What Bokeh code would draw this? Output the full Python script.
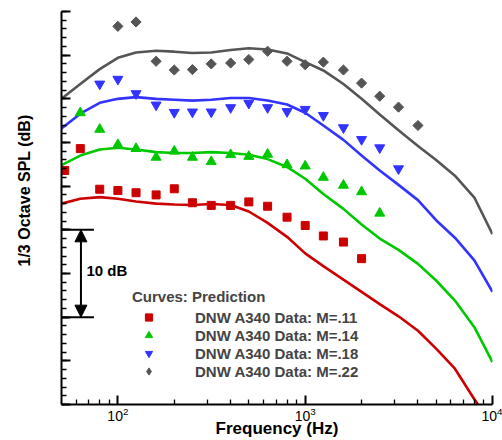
from bokeh.plotting import figure
from bokeh.models import (FixedTicker, Label, Legend, LegendItem, Arrow, NormalHead, Title, LinearAxis)
from bokeh.embed import file_html
from bokeh.resources import INLINE

FONT = "Liberation Sans"
RED, GREEN, BLUE, GRAY = "#cc0000", "#00c800", "#3333ff", "#555555"

# ---- prediction curves (1/3 octave SPL, dB, arbitrary reference) ----
pred_freq = [50, 63, 80, 100, 125, 160, 200, 250, 315, 400, 500, 630, 800, 1000,
             1250, 1600, 2000, 2500, 3150, 4000, 5000, 6300, 8000, 10000]
pred_m11 = [23.0, 23.55, 23.75, 23.55, 23.25, 23.0, 22.9, 22.85, 22.95, 22.85, 22.1, 20.8,
            19.2, 17.3, 15.85, 14.3, 12.9, 11.5, 10.1, 8.45, 6.4, 4.1, 0.6, -2.4]
pred_m14 = [27.4, 28.5, 29.2, 29.4, 29.2, 28.9, 28.8, 28.8, 28.9, 28.8, 28.6, 28.1,
            27.2, 25.85, 24.1, 22.4, 20.6, 19.0, 17.7, 16.1, 14.2, 11.9, 8.85, 4.85]
pred_m18 = [31.6, 33.3, 34.55, 35.0, 35.2, 35.0, 34.9, 34.8, 34.9, 35.1, 35.1, 34.8,
            34.35, 33.4, 31.95, 30.3, 28.5, 26.8, 25.15, 23.4, 21.1, 19.1, 16.5, 12.9]
pred_m22 = [35.0, 36.7, 38.4, 39.7, 40.3, 40.5, 40.4, 40.25, 40.3, 40.6, 40.8, 40.65,
            40.2, 39.2, 38.25, 36.7, 35.0, 33.2, 31.4, 29.6, 28.0, 26.2, 23.7, 19.5]

# ---- DNW A340 measured data ----
data_f_m11 = [52, 63, 80, 100, 125, 160, 200, 250, 315, 400, 500, 630, 800, 1000, 1250, 1600, 2000]
data_m11 = [26.8, 29.3, 24.65, 24.5, 24.25, 24.0, 24.7, 23.1, 22.8, 22.8, 23.2, 22.7,
            21.45, 20.5, 19.3, 18.6, 16.7]
data_f_m14 = [63, 80, 100, 125, 160, 200, 250, 315, 400, 500, 630, 800, 1000, 1250, 1600, 2000, 2500]
data_m14 = [33.4, 31.5, 29.75, 29.3, 28.3, 29.0, 28.3, 27.8, 28.6, 28.4, 28.65, 27.45,
            27.3, 26.0, 25.1, 24.35, 21.9]
data_f_m18 = [80, 100, 125, 160, 200, 250, 315, 400, 500, 630, 800, 1000, 1250, 1600, 2000, 2500, 3150]
data_m18 = [36.7, 37.25, 35.6, 34.3, 33.45, 33.5, 33.5, 34.0, 34.5, 34.0, 33.55, 33.8,
            33.1, 31.7, 30.35, 29.4, 27.0]
data_f_m22 = [100, 125, 160, 200, 250, 315, 400, 500, 630, 800, 1000, 1250, 1600, 2000, 2500, 3150, 4000]
data_m22 = [43.3, 43.8, 39.3, 38.3, 38.35, 39.0, 39.1, 39.5, 40.45, 39.3, 38.9, 39.2,
            38.3, 36.8, 35.3, 34.05, 31.95]

legend_title = "Curves: Prediction"
legend_labels = ["DNW A340 Data: M=.11", "DNW A340 Data: M=.14",
                 "DNW A340 Data: M=.18", "DNW A340 Data: M=.22"]

# axis ticks
X_MAJOR = [100, 1000, 10000]
X_MINOR = [60, 70, 80, 90, 200, 300, 400, 500, 600, 700, 800, 900,
           2000, 3000, 4000, 5000, 6000, 7000, 8000, 9000]
Y_MAJOR = list(range(0, 46, 5))
Y_MINOR = list(range(0, 46, 1))

# 10 dB scale bar
BAR_LOW, BAR_HIGH = 10, 20
BAR_TEXT_Y = 15.4
BAR_FREQ = 63.5
CAP_F0, CAP_F1 = 50, 74.5
BAR_TEXT_F = 68.0

p = figure(width=502, height=440, x_axis_type="log", x_range=(50, 10000), y_range=(0, 45),
           output_backend="svg", toolbar_location=None,
           min_border_left=61, min_border_right=10, min_border_top=11, min_border_bottom=36)
p.outline_line_color = None
p.grid.visible = False

# prediction lines
for vals, col in [(pred_m11, RED), (pred_m14, GREEN), (pred_m18, BLUE), (pred_m22, GRAY)]:
    p.line(pred_freq, vals, line_color=col, line_width=2.6)

# data markers
r11 = p.scatter(data_f_m11, data_m11, marker="square", size=8, fill_color=RED, line_color=RED)
r14 = p.scatter(data_f_m14, data_m14, marker="triangle", size=10, fill_color=GREEN, line_color=GREEN)
r18 = p.scatter(data_f_m18, data_m18, marker="inverted_triangle", size=10, fill_color=BLUE, line_color=BLUE)
r22 = p.scatter(data_f_m22, data_m22, marker="square", angle=0.7853981634, size=7.2,
                fill_color=GRAY, line_color=GRAY)
# legend-only diamond symbol (its single point is NaN, so nothing is drawn in the plot)
r22_leg = p.scatter(x=[float("nan")], y=[float("nan")], marker="diamond", size=12,
                    fill_color=GRAY, line_color=GRAY)

# axes
xa = p.xaxis[0]
xa.ticker = FixedTicker(ticks=X_MAJOR, minor_ticks=X_MINOR)
ya = p.yaxis[0]
ya.ticker = FixedTicker(ticks=Y_MAJOR, minor_ticks=Y_MINOR)
ya.major_label_overrides = {v: "" for v in Y_MAJOR}
for ax in (xa, ya):
    ax.axis_line_width = 2
    ax.axis_line_color = "black"
    ax.major_tick_in = 9
    ax.major_tick_out = 0
    ax.minor_tick_in = 5
    ax.minor_tick_out = 0
    ax.major_tick_line_width = 2
    ax.minor_tick_line_width = 1.3
    ax.major_tick_line_color = "black"
    ax.minor_tick_line_color = "black"
xa.major_label_text_font = FONT
xa.major_label_text_font_size = "14px"
xa.major_label_text_color = "black"
xa.major_label_standoff = 2
xa.axis_label = "Frequency (Hz)"
xa.axis_label_text_font = FONT
xa.axis_label_text_font_size = "17px"
xa.axis_label_text_font_style = "bold"
xa.axis_label_text_color = "black"
xa.axis_label_standoff = -5

# invisible spacer axis so the y title sits further left
spacer = LinearAxis(ticker=FixedTicker(ticks=Y_MAJOR), major_tick_in=0, major_tick_out=24,
                    major_tick_line_color=None, minor_tick_line_color=None, axis_line_color=None,
                    major_label_overrides={v: "" for v in Y_MAJOR}, major_label_standoff=0)
p.add_layout(spacer, "left")

# y axis title (placed on the left, starting 138 px above the frame bottom)
p.add_layout(Title(text="1/3 Octave SPL (dB)", align="left", offset=138, standoff=10,
                   text_font=FONT, text_font_size="16px", text_font_style="bold",
                   text_color="black"), "left")

# 10 dB scale bar
p.segment(x0=[CAP_F0, CAP_F0], y0=[BAR_HIGH, BAR_LOW], x1=[CAP_F1, CAP_F1], y1=[BAR_HIGH, BAR_LOW],
          line_color="black", line_width=2)
p.add_layout(Arrow(x_start=BAR_FREQ, y_start=BAR_LOW, x_end=BAR_FREQ, y_end=BAR_HIGH,
                   start=NormalHead(size=12, fill_color="black", line_color="black"),
                   end=NormalHead(size=12, fill_color="black", line_color="black"),
                   line_width=2, line_color="black"))
p.add_layout(Label(x=BAR_TEXT_F, y=BAR_TEXT_Y, text="10 dB", text_baseline="middle",
                   text_font=FONT, text_font_size="15px", text_font_style="bold", text_color="black"))

legend = Legend(items=[LegendItem(label=legend_labels[i], renderers=[r])
                       for i, r in enumerate([r11, r14, r18, r22_leg])],
                location=(71, 24), title=legend_title,
                title_text_font=FONT, title_text_font_size="15px", title_text_font_style="bold",
                title_standoff=3,
                label_text_font=FONT, label_text_font_size="15px", label_text_font_style="bold",
                glyph_width=33, glyph_height=18, label_height=18, label_standoff=30,
                spacing=0, padding=0, margin=0, border_line_color=None, background_fill_alpha=0)
p.add_layout(legend)

open("out.html", "w").write(file_html(p, INLINE))
